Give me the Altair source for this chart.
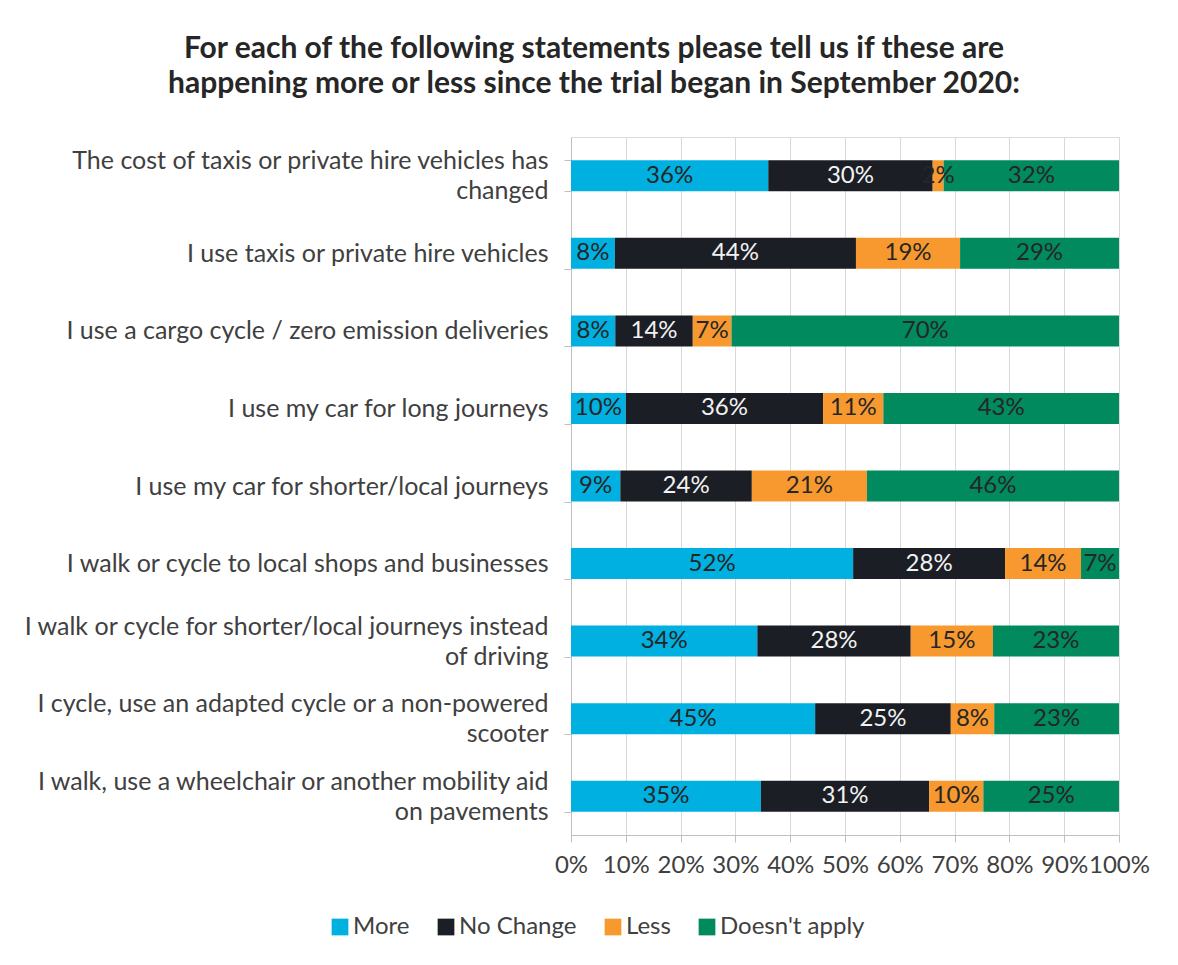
import altair as alt
import pandas as pd

statements = [
    "The cost of taxis or private hire vehicles has|changed",
    "I use taxis or private hire vehicles",
    "I use a cargo cycle / zero emission deliveries",
    "I use my car for long journeys",
    "I use my car for shorter/local journeys",
    "I walk or cycle to local shops and businesses",
    "I walk or cycle for shorter/local journeys instead|of driving",
    "I cycle, use an adapted cycle or a non-powered|scooter",
    "I walk, use a wheelchair or another mobility aid|on pavements",
]
more = [36, 8, 8, 10, 9, 52, 34, 45, 35]
no_change = [30, 44, 14, 36, 24, 28, 28, 25, 31]
less = [2, 19, 7, 11, 21, 14, 15, 8, 10]
doesnt_apply = [32, 29, 70, 43, 46, 7, 23, 23, 25]

responses = ["More", "No Change", "Less", "Doesn't apply"]
colors = ["#00B0E0", "#1B1E25", "#F7992F", "#008A5E"]
x_ticks = [0, 0.1, 0.2, 0.3, 0.4, 0.5, 0.6, 0.7, 0.8, 0.9, 1.0]

series = [more, no_change, less, doesnt_apply]
rows = []
for i, s in enumerate(statements):
    for k, r in enumerate(responses):
        rows.append({"statement": s, "response": r, "order": k, "value": series[k][i]})
df = pd.DataFrame(rows)

FONT = "Lato"

base = alt.Chart(df).transform_joinaggregate(
    total="sum(value)", groupby=["statement"]
).transform_window(
    cum="sum(value)", sort=[alt.SortField("order")], groupby=["statement"],
    frame=[None, 0]
).transform_calculate(
    x1="(datum.cum - datum.value) / datum.total",
    x2="datum.cum / datum.total",
    xm="(datum.cum - datum.value / 2) / datum.total",
    label="datum.value + '%'",
)

y_enc = alt.Y(
    "statement:N",
    sort=statements,
    scale=alt.Scale(paddingInner=0.6, paddingOuter=0.3),
    axis=alt.Axis(
        title=None,
        labelExpr="split(datum.label, '|')",
        labelFontSize=25,
        labelFont=FONT,
        labelColor="#404040",
        labelLineHeight=30,
        labelLimit=0,
        labelPadding=16,
        labelOffset={
            "condition": {
                "test": "isString(datum.label) && indexof(datum.label, '|') >= 0",
                "value": -15,
            },
            "value": 0,
        },
        tickBand="extent",
        tickSize=7,
        tickColor="#bfbfbf",
        domainColor="#bfbfbf",
        grid=False,
    ),
)

bars = base.mark_bar().encode(
    x=alt.X(
        "x1:Q",
        scale=alt.Scale(domain=[0, 1], nice=False),
        axis=alt.Axis(
            title=None,
            values=x_ticks,
            format=".0%",
            labelFontSize=24,
            labelFont=FONT,
            labelColor="#404040",
            labelOverlap=False,
            labelFlush=False,
            labelPadding=11,
            grid=True,
            gridColor="#d9d9d9",
            tickSize=7,
            tickColor="#bfbfbf",
            domainColor="#bfbfbf",
        ),
    ),
    x2="x2:Q",
    y=y_enc,
    color=alt.Color(
        "response:N",
        scale=alt.Scale(domain=responses, range=colors),
        legend=alt.Legend(
            title=None,
            orient="none",
            legendX=-243,
            legendY=778,
            direction="horizontal",
            symbolType="square",
            symbolSize=280,
            symbolStrokeWidth=0,
            labelFontSize=24,
            labelFont=FONT,
            labelColor="#404040",
            columnPadding=24,
            labelOffset=1,
        ),
    ),
)

texts = base.mark_text(fontSize=24, font=FONT, baseline="middle", align="center").encode(
    x="xm:Q",
    y=alt.Y("statement:N", sort=statements),
    text="label:N",
    color=alt.condition(
        "datum.response == 'No Change'", alt.value("#F2F2F2"), alt.value("#262626")
    ),
)

chart = alt.layer(bars, texts).properties(
    width=548,
    height=698,
    autosize=alt.AutoSizeParams(type="none"),
    padding={"left": 563, "top": 129, "right": 51, "bottom": 120},
    title=alt.Title(
        ["For each of the following statements please tell us if these are",
         "happening  more or less since the trial began in September 2020:"],
        fontSize=30,
        font=FONT,
        fontWeight="bold",
        color="#262626",
        anchor="middle",
        frame="group",
        dx=-251,
        offset=26,
        lineHeight=35,
    ),
).configure_view(stroke=None).configure(background="white")

chart.save("out.html", embed_options={"renderer": "svg", "actions": False})
